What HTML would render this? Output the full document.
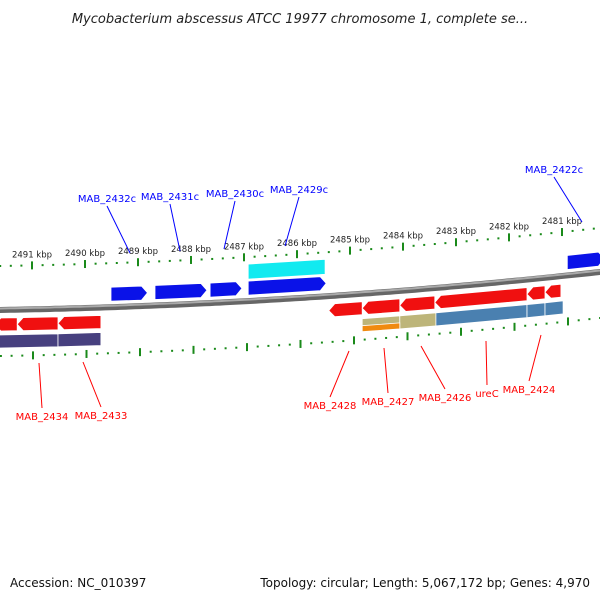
<!DOCTYPE html>
<html><head><meta charset="utf-8"><style>
html,body{margin:0;padding:0;background:#fff}
svg{display:block;font-family:"DejaVu Sans","Liberation Sans",sans-serif}
</style></head><body>
<svg id="c" width="600" height="600" viewBox="0 0 600 600" xmlns="http://www.w3.org/2000/svg">
<text x="300" y="23" text-anchor="middle" font-size="13" font-style="italic" fill="#222">Mycobacterium abscessus ATCC 19977 chromosome 1, complete se...</text>
<text x="10" y="587" font-size="12" fill="#111">Accession: NC_010397</text>
<text x="590" y="587" text-anchor="end" font-size="12" fill="#111">Topology: circular; Length: 5,067,172 bp; Genes: 4,970</text>
<g id="g"></g>
</svg>
<script>
const tickKbp=[2491,2490,2489,2488,2487,2486,2485,2484,2483,2482,2481,2480];
const blueNames=['MAB_2432c-gene','MAB_2431c-gene','MAB_2430c-gene','MAB_2429c-gene','MAB_2422c-gene'];
const blueStart=[2489.51,2488.68,2487.64,2486.92,2480.9];
const blueEnd=[2488.82,2487.70,2487.04,2485.45,2480.2];
const cyanStart=[2486.92]; const cyanEnd=[2485.47];
const redNames=['MAB_2434-gene','MAB_2433a-gene','MAB_2433-gene','MAB_2428-gene','MAB_2427-gene','MAB_2426-gene','ureC-gene','MAB_2424-gene','MAB_2423-gene'];
const redStart=[2491.7,2491.28,2490.51,2485.40,2484.77,2484.06,2483.40,2481.66,2481.32];
const redEnd=[2491.28,2490.51,2489.70,2484.77,2484.06,2483.40,2481.66,2481.32,2481.02];
const purpleStart=[2491.7,2490.51]; const purpleEnd=[2490.51,2489.70];
const khakiStart=[2484.77,2484.06]; const khakiEnd=[2484.06,2483.38];
const steelStart=[2483.38,2481.66,2481.32]; const steelEnd=[2481.66,2481.32,2480.98];

const NS='http://www.w3.org/2000/svg';
const G=document.getElementById('g');
const X=k=>32+53*(2491-k);
const base=x=>310-0.0167*x-7.78e-5*x*x;
function el(t,a){const e=document.createElementNS(NS,t);for(const k in a)e.setAttribute(k,a[k]);G.appendChild(e);return e;}
let d='';for(let x=-5;x<=605;x+=5)d+=(x<0?'M':'L')+x+','+base(x).toFixed(1);
let bb=el('path',{d:d,fill:'none',stroke:'#666','stroke-width':6});


el('path',{d:d,fill:'none',stroke:'#aaa','stroke-width':2,transform:'translate(0,-1.5)'});
for(let k=2492;k>=2480;k-=0.2){
  const x=X(k);if(x<0||x>600)continue;
  const major=Math.abs(k-Math.round(k))<0.01;
  [[-44,true],[46,false]].forEach(([o,top])=>{
    const xx=top?x:x+1+(2491-k)*0.5;const y=base(xx)+o;
    const t=el('line',{x1:xx,x2:xx,y1:y-(major?4:1),y2:y+(major?4:1),stroke:'#1a8a1a','stroke-width':2});
    
    
  });
}
tickKbp.forEach(k=>{const x=X(k);if(x>600)return;
  const t=el('text',{x:x,y:base(x)-52,'text-anchor':'middle','font-size':8.5,fill:'#222'});t.textContent=k+' kbp';
  
  });
function gene(s,e,o1,o2,fill,dir,name){
  let x1=X(s),x2=X(e);if(x1>x2)[x1,x2]=[x2,x1];
  const ah=dir?6:0;
  const pts=[];
  if(dir===1){pts.push([x1,o1],[x2-ah,o1],[x2,(o1+o2)/2],[x2-ah,o2],[x1,o2]);}
  else if(dir===-1){pts.push([x1+ah,o1],[x2,o1],[x2,o2],[x1+ah,o2],[x1,(o1+o2)/2]);}
  else pts.push([x1,o1],[x2,o1],[x2,o2],[x1,o2]);
  const p=pts.map((q,i)=>(i?'L':'M')+q[0].toFixed(1)+','+(base(q[0])+q[1]).toFixed(1)).join('')+'Z';
  const g=el('path',{d:p,fill:fill,stroke:'#fff','stroke-width':0.8});
  
  
  return g;
}
blueStart.forEach((s,i)=>gene(s,blueEnd[i],-20,-6,'#0a12e8',1,blueNames[i]));
cyanStart.forEach((s,i)=>gene(s,cyanEnd[i],-37,-22,'#12eaf0',0,'cyan-feature'));
redStart.forEach((s,i)=>gene(s,redEnd[i],8,21,'#f01010',-1,redNames[i]));
purpleStart.forEach((s,i)=>gene(s,purpleEnd[i],25,38,'#47407f',0,'purple-feature'));
khakiStart.forEach((s,i)=>gene(s,khakiEnd[i],25,38,'#bdb57a',0,'khaki-feature'));
gene(2484.77,2484.06,32,38,'#f08a10',0,'orange-feature');
steelStart.forEach((s,i)=>gene(s,steelEnd[i],25,38,'#4a80b0',0,'steelblue-feature'));
const labels=[
 ['MAB_2432c',107,202,130,253,'#00f'],['MAB_2431c',170,200,180,251,'#00f'],['MAB_2430c',235,197,224,249,'#00f'],
 ['MAB_2429c',299,193,285,246,'#00f'],['MAB_2422c',554,173,582,222,'#00f'],
 ['MAB_2434',42,420,39,363,'#f00'],['MAB_2433',101,419,83,362,'#f00'],['MAB_2428',330,409,349,351,'#f00'],
 ['MAB_2427',388,405,384,348,'#f00'],['MAB_2426',445,401,421,346,'#f00'],['ureC',487,397,486,341,'#f00'],['MAB_2424',529,393,541,335,'#f00']];
labels.forEach(([t,x,y,lx,ly,c])=>{
  const top=c==='#00f';
  const l=el('line',{x1:x,y1:top?y+4:y-12,x2:lx,y2:ly,stroke:c,'stroke-width':1});
  
  
  const tx=el('text',{x:x,y:y,'text-anchor':'middle','font-size':10,fill:c});tx.textContent=t;
  
  
});
</script>
</body></html>
